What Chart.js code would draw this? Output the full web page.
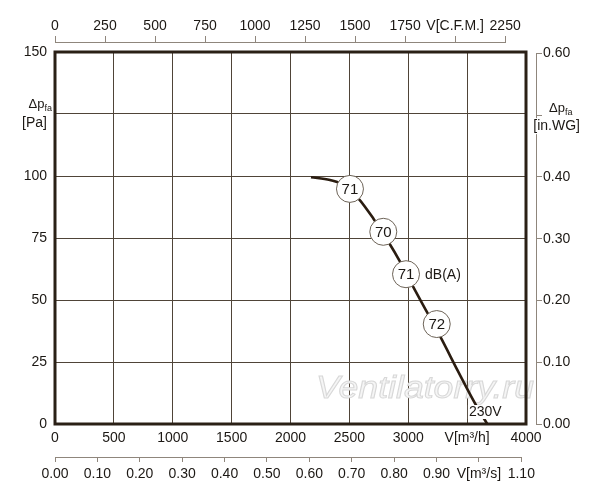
<!DOCTYPE html>
<html>
<head>
<meta charset="utf-8">
<script src="https://cdn.jsdelivr.net/npm/chart.js@4.4.1/dist/chart.umd.min.js"></script>
<style>
    html, body { margin: 0; padding: 0; background: #fff; }
    #wrap { width: 600px; height: 500px; position: relative; }
</style>
</head>
<body>
<div id="wrap"><canvas id="fan_chart"></canvas></div>
<script>
// fan curve
var flowM3h = [2174, 2335, 2450, 2576, 2703, 2831, 2930, 3040, 3157, 3280, 3420, 3567, 3671];
var pressurePa = [99.5, 98.4, 96.5, 91.0, 82.9, 73.5, 65.5, 55.5, 45.3, 34.5, 21.5, 8.3, 0];

// noise markers along the curve
var noiseFlow = [2505, 2788, 2981, 3242];
var noisePa = [94.8, 77.5, 60.4, 40.3];
var noiseDb = ['71', '70', '71', '72'];

// tick labels
var flowTickLabels = ['0', '500', '1000', '1500', '2000', '2500', '3000', 'V[m³/h]', '4000'];
var cfmTickLabels = ['0', '250', '500', '750', '1000', '1250', '1500', '1750', 'V[C.F.M.]', '2250'];
var m3sTickLabels = ['0.00', '0.10', '0.20', '0.30', '0.40', '0.50', '0.60', '0.70', '0.80', '0.90', 'V[m³/s]', '1.10'];
var paTickLabels = ['0', '25', '50', '75', '100', '', '150'];
var inwgTickLabels = ['0.00', '0.10', '0.20', '0.30', '0.40', '', '0.60'];

var FLOW_MAX = 4000, PA_MAX = 150;
var CFM_PER_M3H = 0.588578, PA_PER_INWG = 249.089;

var FAMILY = '"Liberation Sans", Arial, sans-serif';
var TXT = '#1c1814', GRID = '#4f4438', FRAME = '#2a2016', AXIS2 = '#8f867c', CURVE = '#2a1c10';
var tickFont = { family: FAMILY, size: 14 };

function fix(size) {
    return function (s) {
        if (s.isHorizontal()) s.height = size; else s.width = size;
    };
}

function fromList(list) {
    return function (v, i) { return list[i]; };
}

function spacer(pos, size) {
    return {
        type: 'linear', position: pos, weight: 0, afterFit: fix(size),
        grid: { display: false }, border: { display: false }, ticks: { display: false }
    };
}

function sideAxis(pos, max, step, list, tl, pad) {
    return {
        type: 'linear', position: pos, weight: 1, min: 0, max: max,
        grid: { drawOnChartArea: false, tickLength: tl, color: AXIS2 },
        border: { display: false },
        ticks: { stepSize: step, includeBounds: false, autoSkip: false, maxRotation: 0, padding: pad,
                 color: TXT, font: tickFont, callback: fromList(list) }
    };
}

function drawDp(ctx, left, right, baseY, unit, unitY, unitRight) {
    ctx.font = '13px ' + FAMILY;
    var w1 = ctx.measureText('Δp').width;
    ctx.font = '9px ' + FAMILY;
    var w2 = ctx.measureText('fa').width;
    var x0 = right != null ? right - w1 - w2 : left;
    ctx.fillStyle = TXT;
    ctx.textAlign = 'left';
    ctx.textBaseline = 'alphabetic';
    ctx.font = '13px ' + FAMILY;
    ctx.fillText('Δp', x0, baseY);
    ctx.font = '9px ' + FAMILY;
    ctx.fillText('fa', x0 + w1, baseY + 3);
    ctx.font = '14px ' + FAMILY;
    var wu = ctx.measureText(unit).width;
    ctx.fillStyle = '#fff';
    ctx.fillRect(unitRight - wu - 1, unitY - 12, wu + 2, 16);
    ctx.fillStyle = TXT;
    ctx.fillText(unit, unitRight - wu, unitY);
}

var decor = {
    id: 'decor',
    beforeDatasetsDraw: function (chart) {
        var ctx = chart.ctx, a = chart.chartArea, s = chart.scales;
        ctx.save();
        // watermark
        ctx.font = 'italic 31px ' + FAMILY;
        var w = ctx.measureText('Ventilatorry.ru').width;
        ctx.translate(316, 398);
        ctx.scale(218 / w, 1);
        ctx.lineWidth = 1;
        ctx.fillStyle = '#f5f5f5';
        ctx.strokeStyle = '#d8d8d8';
        ctx.fillText('Ventilatorry.ru', 0, 0);
        ctx.strokeText('Ventilatorry.ru', 0, 0);
        ctx.setTransform(1, 0, 0, 1, 0, 0);
        ctx.restore();

        ctx.save();
        // frame
        ctx.strokeStyle = FRAME;
        ctx.lineWidth = 3;
        ctx.strokeRect(a.left, a.top, a.right - a.left, a.bottom - a.top);
        // secondary axis lines, ending at their last tick
        ctx.strokeStyle = AXIS2;
        ctx.lineWidth = 1;
        ctx.beginPath();
        var c = s.cfm, last = c.ticks[c.ticks.length - 1].value;
        ctx.moveTo(c.getPixelForValue(0), c.bottom - 0.5);
        ctx.lineTo(c.getPixelForValue(last), c.bottom - 0.5);
        var m = s.m3s;
        last = m.ticks[m.ticks.length - 1].value;
        ctx.moveTo(m.getPixelForValue(0), m.top + 0.5);
        ctx.lineTo(m.getPixelForValue(last), m.top + 0.5);
        var r = s.inwg;
        last = r.ticks[r.ticks.length - 1].value;
        ctx.moveTo(r.left + 0.5, r.getPixelForValue(0));
        ctx.lineTo(r.left + 0.5, r.getPixelForValue(last));
        ctx.stroke();
        ctx.restore();
    },
    afterDatasetsDraw: function (chart) {
        var ctx = chart.ctx, s = chart.scales;
        ctx.save();
        // dB values inside circles
        var pts = chart.getDatasetMeta(0).data;
        ctx.fillStyle = TXT;
        ctx.font = '15px ' + FAMILY;
        ctx.textAlign = 'center';
        ctx.textBaseline = 'middle';
        pts.forEach(function (p, i) {
            ctx.fillText(noiseDb[i], p.x, p.y + 1);
        });
        ctx.font = '14px ' + FAMILY;
        ctx.textAlign = 'left';
        ctx.fillText('dB(A)', pts[2].x + 19, pts[2].y + 1);

        // voltage label at the end of the curve
        var curve = chart.getDatasetMeta(1).data;
        var end = curve[curve.length - 1];
        var tw = ctx.measureText('230V').width;
        ctx.fillStyle = '#fff';
        ctx.fillRect(end.x - 2 - tw / 2 - 1, end.y - 19, tw + 2, 14);
        ctx.fillStyle = TXT;
        ctx.textAlign = 'center';
        ctx.fillText('230V', end.x - 2, end.y - 12);

        // axis captions
        var yl = s.y.getPixelForValue(125);
        drawDp(ctx, null, 52, yl - 6, '[Pa]', yl + 13, 47);
        var yr = s.inwg.getPixelForValue(0.5);
        drawDp(ctx, s.inwg.left + 13, null, yr - 3, '[in.WG]', yr + 15, s.inwg.left + 44);
        ctx.restore();
    }
};

new Chart(document.getElementById('fan_chart').getContext('2d'), {
    type: 'line',
    data: {
        datasets: [{
            label: 'noise',
            data: noiseFlow.map(function (f, i) { return { x: f, y: noisePa[i] }; }),
            showLine: false,
            pointRadius: 13.5,
            pointBackgroundColor: '#fff',
            pointBorderColor: '#6d6357',
            pointBorderWidth: 1
        }, {
            label: '230V',
            data: flowM3h.map(function (f, i) { return { x: f, y: pressurePa[i] }; }),
            borderColor: CURVE,
            borderWidth: 2.6,
            pointRadius: 0,
            fill: false,
            cubicInterpolationMode: 'monotone'
        }]
    },
    options: {
        responsive: true,
        maintainAspectRatio: false,
        animation: false,
        events: [],
        layout: { padding: 0 },
        plugins: { legend: { display: false }, tooltip: { enabled: false } },
        scales: {
            x: {
                type: 'linear', position: 'bottom', weight: 0, min: 0, max: FLOW_MAX,
                afterFit: fix(33),
                grid: { color: GRID, drawTicks: false },
                border: { display: false },
                ticks: { stepSize: 500, autoSkip: false, maxRotation: 0, padding: 6,
                         color: TXT, font: tickFont, callback: fromList(flowTickLabels) }
            },
            m3s: Object.assign(sideAxis('bottom', FLOW_MAX / 3600, 0.1, m3sTickLabels, 5, 4), { afterFit: fix(43) }),
            y: {
                type: 'linear', position: 'left', min: 0, max: PA_MAX,
                afterFit: fix(55),
                grid: { color: GRID, drawTicks: false },
                border: { display: false },
                ticks: { stepSize: 25, autoSkip: false, padding: 8,
                         color: TXT, font: tickFont, callback: fromList(paTickLabels) }
            },
            tSpace: spacer('top', 9),
            cfm: Object.assign(sideAxis('top', FLOW_MAX * CFM_PER_M3H, 250, cfmTickLabels, 7, 1), { afterFit: fix(43) }),
            rSpace: spacer('right', 10),
            inwg: Object.assign(sideAxis('right', PA_MAX / PA_PER_INWG, 0.1, inwgTickLabels, 6, 1), { afterFit: fix(64) })
        }
    },
    plugins: [decor]
});
</script>
</body>
</html>
